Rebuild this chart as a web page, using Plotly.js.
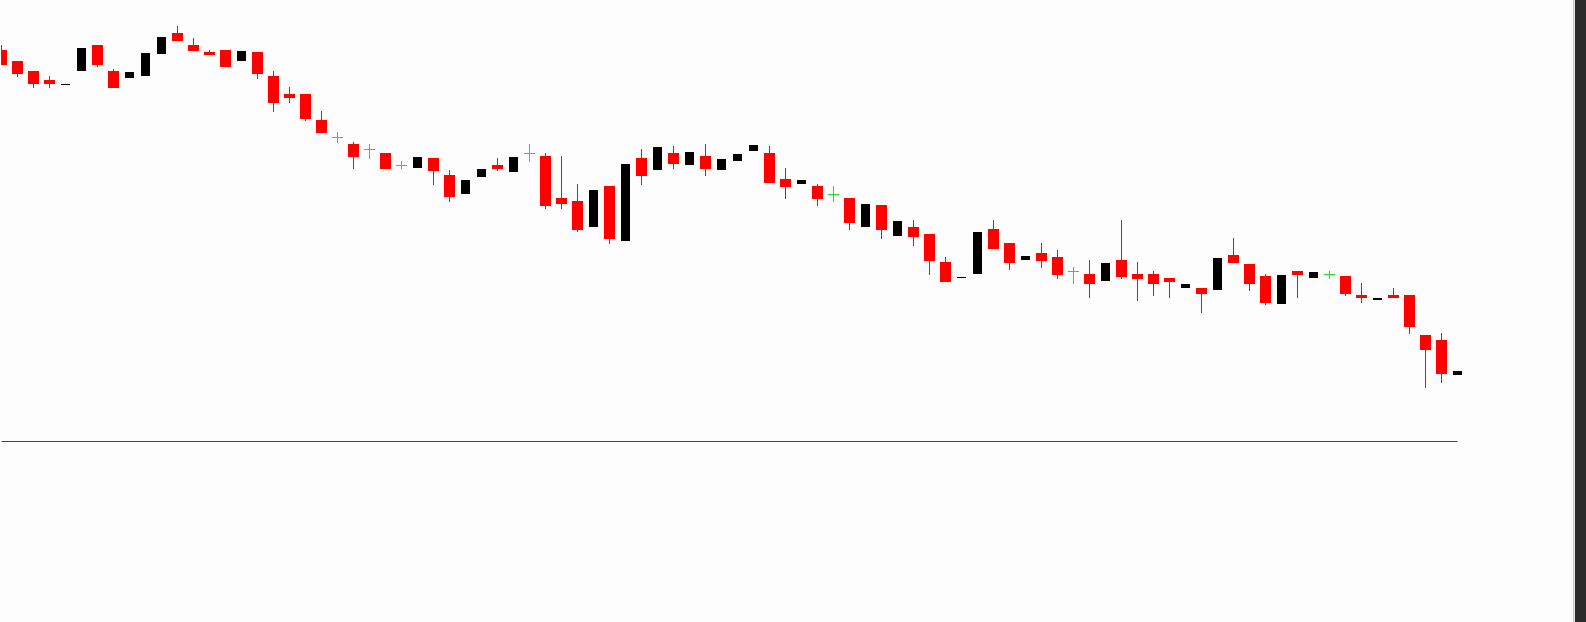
<!DOCTYPE html>
<html>
<head>
<meta charset="utf-8">
<script src="https://cdn.plot.ly/plotly-3.0.1.min.js"></script>
<style>html,body{margin:0;padding:0;background:#fdfdfd;overflow:hidden}</style>
</head>
<body>
<div id="chart" style="width:1586px;height:622px"></div>
<script>
// OHLC values (arbitrary price units), one per session
const openP  = [95.0,93.9,92.9,92.0,91.5,92.9,95.5,92.9,92.2,92.4,94.6,96.7,95.5,94.8,95.0,93.9,94.8,92.4,90.6,90.6,88.0,86.25,85.6,85.05,84.7,83.45,83.2,84.2,82.5,80.6,82.3,83.5,82.8,84.65,84.4,80.2,79.9,77.3,81.4,75.9,84.2,83.0,84.7,83.5,84.4,83.0,83.9,84.9,84.7,82.1,81.6,81.4,80.55,80.2,77.3,79.5,76.4,77.3,76.6,73.8,72.2,72.6,77.1,75.7,74.0,74.7,74.3,72.85,72.6,71.9,74.0,72.6,72.6,72.2,71.2,71.2,71.0,74.5,73.6,72.4,69.6,72.9,72.2,72.55,72.4,70.5,70.0,70.5,70.5,66.5,66.0,62.5];
const highP  = [95.5,93.9,92.9,92.4,91.6,95.2,95.5,93.1,92.8,94.7,96.3,97.4,96.2,95.0,95.0,94.9,94.8,92.9,91.3,90.6,88.9,86.8,85.8,85.6,84.7,83.9,84.3,84.2,83.0,82.0,83.1,84.2,84.3,85.6,84.7,84.4,81.6,81.0,81.4,83.6,85.1,85.3,85.4,84.8,85.6,84.1,84.6,85.5,85.4,83.2,82.0,81.6,81.4,80.2,79.6,79.5,77.9,78.0,76.6,74.3,72.3,76.8,78.0,75.7,74.4,75.7,75.0,73.3,74.0,73.7,78.0,73.8,72.9,72.2,71.6,71.2,74.2,76.2,73.6,72.6,72.5,72.9,72.8,72.9,72.4,71.7,70.2,71.2,70.5,66.5,66.7,62.9];
const lowP   = [93.5,92.3,91.2,91.2,91.5,92.9,93.3,91.2,92.2,92.4,94.6,95.9,94.9,94.5,93.3,93.9,92.1,88.8,89.7,87.9,86.7,85.7,83.1,84.1,83.1,83.1,83.2,81.5,79.8,80.6,82.3,82.9,82.8,83.8,79.1,79.1,76.8,77.3,75.6,75.9,81.5,83.0,83.1,83.5,82.4,83.0,83.9,84.9,81.7,80.1,81.6,79.4,79.8,77.0,77.3,76.1,76.4,75.4,72.5,71.8,72.2,72.6,75.1,73.0,74.0,73.2,72.1,71.6,70.2,71.9,72.1,69.9,70.4,70.2,71.2,68.7,71.0,73.7,70.9,69.5,69.6,70.2,72.2,72.1,70.4,69.7,70.0,70.2,66.6,61.2,61.7,62.5];
const closeP = [93.5,92.6,91.6,91.6,91.6,95.2,93.5,91.2,92.8,94.7,96.3,95.9,94.9,94.5,93.3,94.9,92.6,89.7,90.2,88.1,86.7,86.25,84.3,85.05,83.1,83.45,84.3,82.9,80.3,82.0,83.1,83.1,84.3,84.65,79.4,79.6,77.0,81.0,76.1,83.6,82.4,85.3,83.6,84.8,83.1,84.1,84.6,85.5,81.7,81.3,82.0,80.1,80.55,77.7,79.6,77.0,77.9,76.3,73.9,71.8,72.3,76.8,75.1,73.7,74.4,73.9,72.5,72.85,71.6,73.7,72.3,72.1,71.6,71.8,71.6,70.6,74.2,73.7,71.6,69.7,72.5,72.5,72.8,72.55,70.6,70.2,70.2,70.2,67.3,65.0,62.6,62.9];
const supportLevel = 55.85;

const RED_W = 0.6875, BLACK_W = 0.5625;
const red = {x: [], base: [], y: []};
const black = {x: [], base: [], y: []};
const wickX = [], wickY = [], dojiX = [], dojiY = [];
for (let i = 0; i < openP.length; i++) {
  const o = openP[i], h = highP[i], l = lowP[i], c = closeP[i];
  if (c < o) {
    red.x.push(i); red.base.push(c); red.y.push(o - c);
    wickX.push(i, i, null); wickY.push(h, l, null);
  } else if (c > o) {
    black.x.push(i); black.base.push(o); black.y.push(c - o);
  } else {
    dojiX.push(i, i, null, i - RED_W / 2, i + RED_W / 2, null);
    dojiY.push(h, l, null, o, o, null);
  }
}

const traces = [
  {type: 'scatter', mode: 'lines', x: wickX, y: wickY, line: {color: '#dc1414', width: 1}, hoverinfo: 'skip'},
  {type: 'bar', x: red.x, base: red.base, y: red.y, width: RED_W, marker: {color: '#ff0000', line: {width: 0}}, hoverinfo: 'skip'},
  {type: 'bar', x: black.x, base: black.base, y: black.y, width: BLACK_W, marker: {color: '#000000', line: {width: 0}}, hoverinfo: 'skip'},
  {type: 'scatter', mode: 'lines', x: dojiX, y: dojiY, line: {color: '#22dd22', width: 1}, hoverinfo: 'skip'},
  {type: 'scatter', mode: 'lines', x: [0, openP.length - 1], y: [supportLevel, supportLevel], line: {color: '#e00000', width: 1}, hoverinfo: 'skip'}
];

const PW = 1572;
const layout = {
  width: 1586, height: 622,
  margin: {l: 1, r: 13, t: 0, b: 0, pad: 0},
  paper_bgcolor: '#fdfdfd', plot_bgcolor: '#fdfdfd',
  showlegend: false, barmode: 'overlay', hovermode: false,
  xaxis: {range: [-0.03125, -0.03125 + PW / 16], visible: false, fixedrange: true},
  yaxis: {range: [37.8, 100], visible: false, fixedrange: true},
  shapes: [
    {type: 'rect', xref: 'paper', yref: 'paper', x0: 1, x1: 1 + 1 / PW, y0: 0, y1: 1, fillcolor: '#c8c8c8', line: {width: 0}, layer: 'above'},
    {type: 'rect', xref: 'paper', yref: 'paper', x0: 1 + 1 / PW, x1: 1 + 2 / PW, y0: 0, y1: 1, fillcolor: '#e4e4e4', line: {width: 0}, layer: 'above'},
    {type: 'rect', xref: 'paper', yref: 'paper', x0: 1 + 2 / PW, x1: 1 + 13 / PW, y0: 0, y1: 1, fillcolor: '#2c2c2c', line: {width: 0}, layer: 'above'}
  ]
};

Plotly.newPlot('chart', traces, layout, {displayModeBar: false, staticPlot: true});
</script>
</body>
</html>
